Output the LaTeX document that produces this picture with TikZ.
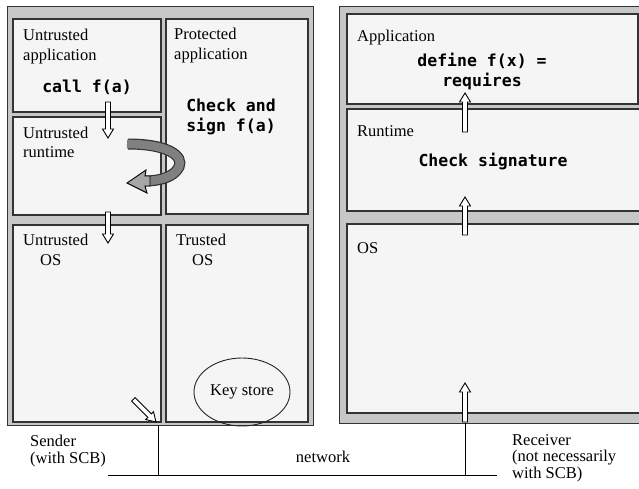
\documentclass[tikz,border=0pt]{standalone}
\usepackage{fontspec}
\usetikzlibrary{shapes.geometric}
\setmainfont{Liberation Serif}
\newfontfamily\codefont{DejaVu Sans Mono}
\newcommand\holarrow[3]{%
  \begin{scope}[shift={#1},rotate=#2]
    \draw[line width=0.9pt,fill=white,line join=miter]
      (0,0) -- (-9,5.5) -- (-9,2.5) -- (-#3,2.5) -- (-#3,-2.5) -- (-9,-2.5) -- (-9,-5.5) -- cycle;
  \end{scope}}
\begin{document}
\begin{tikzpicture}[x=1pt,y=-1pt,
  frame/.style={draw=black!80, line width=1.4pt, fill=black!22, anchor=north west, inner sep=0pt},
  panel/.style={draw=black!80, line width=1.6pt, fill=black!4, anchor=north west, inner sep=0pt},
  lbl/.style={font=\fontsize{16.5}{20}\selectfont, align=left, anchor=base west, inner sep=0pt},
  lbls/.style={font=\fontsize{16.5}{16.5}\selectfont, align=left, anchor=base west, inner sep=0pt},
  code/.style={font=\codefont\bfseries\fontsize{16.5}{20}\selectfont, align=center, anchor=base, inner sep=0pt},
  netline/.style={draw=black, line width=0.9pt}]
\useasboundingbox (0,0) rectangle (639,489);
\clip (0,0) rectangle (639,489);
\fill[white] (0,0) rectangle (639,489);

% left machine
\node[frame, minimum width=306, minimum height=419] (lf) at (7,6) {};
\node[panel, minimum width=148, minimum height=93] (ua) at (12,18) {};
\node[panel, minimum width=148, minimum height=98] (ur) at (12,116) {};
\node[panel, minimum width=142, minimum height=195] (pa) at (165,18) {};
\node[panel, minimum width=148, minimum height=197] (uo) at (12,224) {};
\node[panel, minimum width=142, minimum height=197] (tos) at (165,224) {};

% right machine
\node[frame, minimum width=320, minimum height=417] (rf) at (339,6) {};
\node[panel, minimum width=291, minimum height=90] (ap) at (346,13) {};
\node[panel, minimum width=320, minimum height=102] (rt) at (346,108) {};
\node[panel, minimum width=320, minimum height=189] (ros) at (346,223) {};

% labels (base = last line)
\node[lbl] (l1) at (23,61) {Untrusted\\application};
\node[lbl] (l2) at (174,60) {Protected\\application};
\node[lbl] (l3) at (23,158) {Untrusted\\runtime};
\node[lbl] (l4) at (23,245) {Untrusted};
\node[lbl] (l5) at (40,265) {OS};
\node[lbl] (l6) at (176,245) {Trusted};
\node[lbl] (l7) at (192,265) {OS};
\node[lbl] (l8) at (357,42) {Application};
\node[lbl] (l9) at (357,137) {Runtime};
\node[lbl] (l10) at (357,253) {OS};

\node[code] (c1) at (87,93) {call f(a)};
\node[code] (c2) at (231,132) {Check and\\sign f(a)};
\node[code] (c3) at (482,87) {define f(x) =\\requires};
\node[code] (c4) at (493,167) {Check signature};

% key store
\node[draw=black!85, line width=0.9pt, ellipse, minimum width=96, minimum height=68,
      font=\fontsize{16.5}{20}\selectfont, inner sep=0pt] (ks) at (242,392) {Key store};

% block arrows
\coordinate (a1) at (108,138);
\coordinate (a2) at (108,243);
\coordinate (a3) at (465,93);
\coordinate (a4) at (465,197);
\coordinate (a5) at (465,383);
\coordinate (a6) at (156,422);
\holarrow{(a1)}{-90}{36}
\holarrow{(a2)}{-90}{31}
\holarrow{(a3)}{90}{39}
\holarrow{(a4)}{90}{38}
\holarrow{(a5)}{90}{39}
\holarrow{(a6)}{-45}{32}

% curved arrow
\draw[line width=11pt, black!80]
  (128,144) .. controls (168,144) and (184,156) .. (179,167) .. controls (174,177) and (160,181) .. (145,181);
\draw[line width=8.6pt, black!50]
  (127,144) .. controls (168,144) and (184,156) .. (179,167) .. controls (174,177) and (160,181) .. (144,181);
\draw[line width=0.9pt, fill=black!35, line join=miter]
  (127,183) -- (146,170) -- (145,176) -- (150,176) -- (150,186) -- (145,186) -- (147,193) -- cycle;

% network
\coordinate (s1) at (158,425);
\coordinate (s2) at (158,475);
\coordinate (r1) at (465,423);
\coordinate (r2) at (465,475);
\coordinate (nl) at (108,475);
\coordinate (nr) at (497,475);
\draw[netline] (s1) -- (s2);
\draw[netline] (r1) -- (r2);
\draw[netline] (nl) -- (nr);

\node[lbls] (snd) at (30,463) {Sender\\(with SCB)};
\node[lbls, anchor=base] (net) at (323,462) {network};
\node[lbls] (rcv) at (512,478) {Receiver\\(not necessarily\\with SCB)};
\end{tikzpicture}
\end{document}
